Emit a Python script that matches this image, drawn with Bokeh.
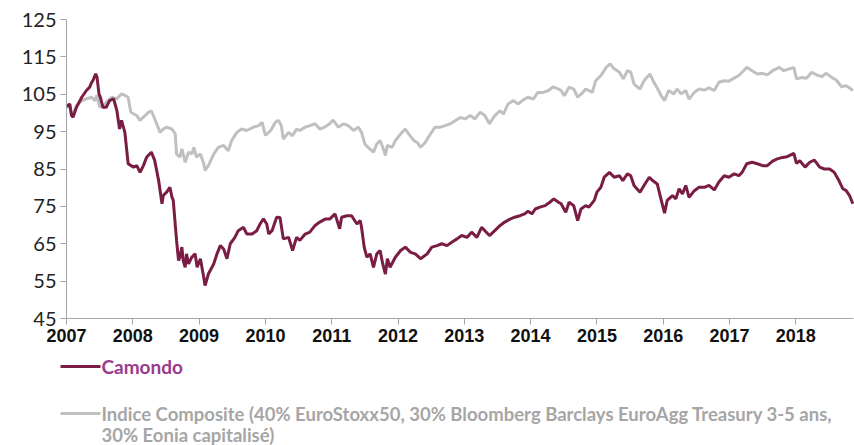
from bokeh.plotting import figure
from bokeh.models import Range1d, FixedTicker, Label, Arrow
from bokeh.embed import file_html
from bokeh.resources import INLINE

# ---------------- data (fractional years, index values) ----------------
camondo_dates = [
    2007.00, 2007.05, 2007.076, 2007.10, 2007.15, 2007.23, 2007.30, 2007.35, 2007.38, 2007.40,
    2007.44, 2007.46, 2007.49, 2007.51, 2007.55, 2007.60, 2007.65, 2007.71, 2007.76, 2007.80,
    2007.83, 2007.88, 2007.93, 2008.01, 2008.06, 2008.11, 2008.16, 2008.21, 2008.28, 2008.33,
    2008.39, 2008.44, 2008.46, 2008.51, 2008.56, 2008.59, 2008.61, 2008.66, 2008.69, 2008.71,
    2008.74, 2008.76, 2008.79, 2008.81, 2008.84, 2008.89, 2008.94, 2008.97, 2009.02, 2009.07,
    2009.09, 2009.14, 2009.22, 2009.27, 2009.32, 2009.37, 2009.42, 2009.47, 2009.54, 2009.59,
    2009.67, 2009.72, 2009.80, 2009.87, 2009.92, 2009.97, 2010.02, 2010.05, 2010.10, 2010.17,
    2010.22, 2010.27, 2010.35, 2010.41, 2010.47, 2010.52, 2010.60, 2010.67, 2010.75, 2010.82,
    2010.90, 2010.97, 2011.05, 2011.12, 2011.15, 2011.23, 2011.30, 2011.38, 2011.43, 2011.45,
    2011.49, 2011.53, 2011.58, 2011.63, 2011.68, 2011.73, 2011.77, 2011.81, 2011.84, 2011.88,
    2011.96, 2012.04, 2012.11, 2012.19, 2012.26, 2012.34, 2012.44, 2012.51, 2012.59, 2012.66,
    2012.74, 2012.81, 2012.89, 2012.96, 2013.04, 2013.11, 2013.19, 2013.26, 2013.31, 2013.38,
    2013.46, 2013.54, 2013.61, 2013.69, 2013.76, 2013.84, 2013.91, 2013.96, 2014.02, 2014.07,
    2014.14, 2014.22, 2014.29, 2014.35, 2014.42, 2014.46, 2014.53, 2014.58, 2014.65, 2014.71,
    2014.76, 2014.83, 2014.88, 2014.96, 2015.00, 2015.06, 2015.11, 2015.19, 2015.26, 2015.34,
    2015.39, 2015.46, 2015.51, 2015.56, 2015.65, 2015.71, 2015.79, 2015.84, 2015.91, 2015.96,
    2016.02, 2016.06, 2016.14, 2016.19, 2016.24, 2016.29, 2016.34, 2016.39, 2016.47, 2016.54,
    2016.62, 2016.69, 2016.77, 2016.84, 2016.92, 2016.99, 2017.07, 2017.14, 2017.19, 2017.26,
    2017.34, 2017.42, 2017.50, 2017.57, 2017.65, 2017.72, 2017.80, 2017.87, 2017.97, 2018.01,
    2018.06, 2018.14, 2018.21, 2018.28, 2018.36, 2018.43, 2018.51, 2018.58, 2018.65, 2018.71,
    2018.76, 2018.81, 2018.86,
]
camondo_values = [
    101.7, 102.4, 99.3, 98.9, 101.5, 104.2, 106.0, 106.9, 108.2, 108.7,
    110.5, 109.6, 105.1, 104.2, 101.5, 101.5, 103.3, 103.8, 100.6, 95.7,
    98.0, 94.8, 86.4, 85.5, 85.9, 84.1, 85.9, 88.2, 89.5, 87.3,
    81.9, 75.7, 77.9, 78.8, 80.1, 77.5, 76.6, 65.9, 60.5, 61.4,
    64.1, 60.5, 58.7, 62.3, 59.6, 61.4, 62.3, 58.7, 61.0, 56.0,
    53.8, 56.9, 59.6, 62.3, 64.5, 63.6, 61.0, 65.0, 66.7, 68.5,
    69.4, 67.6, 67.6, 68.5, 70.3, 71.7, 70.3, 67.6, 68.5, 72.1,
    72.0, 66.3, 66.7, 63.2, 66.7, 65.9, 67.6, 68.1, 69.9, 70.8,
    71.6, 71.6, 73.0, 69.0, 72.1, 72.5, 72.5, 70.3, 71.2, 69.4,
    64.1, 61.4, 62.3, 58.7, 62.3, 63.2, 59.6, 56.9, 61.0, 58.7,
    61.4, 63.2, 64.1, 62.7, 62.3, 61.0, 62.3, 64.1, 64.5, 65.0,
    64.5, 65.4, 66.3, 67.2, 66.7, 68.1, 66.7, 69.4, 68.5, 67.2,
    68.5, 69.9, 70.8, 71.6, 72.1, 72.5, 73.0, 73.7, 73.0, 74.3,
    74.8, 75.2, 76.1, 77.0, 76.1, 75.7, 73.4, 76.1, 75.2, 71.2,
    74.3, 75.2, 74.8, 76.6, 78.8, 80.1, 82.8, 84.1, 82.8, 83.2,
    81.9, 83.7, 83.2, 80.6, 78.8, 80.6, 82.8, 81.9, 81.0, 77.4,
    73.2, 76.6, 77.9, 77.0, 79.7, 78.3, 80.6, 77.4, 79.2, 80.1,
    80.1, 80.6, 79.4, 81.5, 83.2, 82.8, 83.7, 83.2, 84.1, 86.4,
    86.8, 86.4, 85.9, 85.9, 87.1, 87.7, 88.1, 88.3, 89.2, 86.5,
    87.2, 85.5, 86.8, 87.4, 85.5, 85.0, 85.0, 84.1, 81.9, 79.7,
    79.2, 77.9, 75.7,
]

indice_dates = [
    2007.00, 2007.05, 2007.076, 2007.10, 2007.15, 2007.23, 2007.30, 2007.38, 2007.43, 2007.46,
    2007.50, 2007.55, 2007.60, 2007.68, 2007.76, 2007.83, 2007.88, 2007.93, 2007.97, 2008.01,
    2008.06, 2008.11, 2008.16, 2008.24, 2008.28, 2008.31, 2008.36, 2008.41, 2008.46, 2008.51,
    2008.59, 2008.64, 2008.66, 2008.71, 2008.74, 2008.79, 2008.84, 2008.89, 2008.92, 2008.96,
    2009.02, 2009.07, 2009.09, 2009.14, 2009.22, 2009.29, 2009.37, 2009.44, 2009.49, 2009.57,
    2009.64, 2009.72, 2009.82, 2009.90, 2009.95, 2010.00, 2010.08, 2010.15, 2010.20, 2010.24,
    2010.27, 2010.35, 2010.41, 2010.47, 2010.52, 2010.60, 2010.67, 2010.75, 2010.82, 2010.90,
    2010.97, 2011.02, 2011.10, 2011.18, 2011.25, 2011.33, 2011.40, 2011.45, 2011.50, 2011.55,
    2011.63, 2011.68, 2011.73, 2011.77, 2011.81, 2011.84, 2011.91, 2011.96, 2012.04, 2012.11,
    2012.16, 2012.24, 2012.29, 2012.34, 2012.41, 2012.49, 2012.56, 2012.64, 2012.71, 2012.79,
    2012.86, 2012.94, 2013.01, 2013.09, 2013.16, 2013.24, 2013.31, 2013.38, 2013.46, 2013.54,
    2013.59, 2013.66, 2013.74, 2013.81, 2013.89, 2013.96, 2014.04, 2014.11, 2014.19, 2014.27,
    2014.34, 2014.42, 2014.46, 2014.51, 2014.58, 2014.65, 2014.71, 2014.79, 2014.83, 2014.88,
    2014.93, 2014.98, 2015.06, 2015.14, 2015.20, 2015.26, 2015.34, 2015.40, 2015.46, 2015.51,
    2015.56, 2015.65, 2015.71, 2015.80, 2015.86, 2015.93, 2015.97, 2016.02, 2016.08, 2016.16,
    2016.21, 2016.27, 2016.34, 2016.39, 2016.47, 2016.54, 2016.62, 2016.69, 2016.77, 2016.84,
    2016.92, 2016.99, 2017.07, 2017.14, 2017.19, 2017.26, 2017.34, 2017.42, 2017.50, 2017.57,
    2017.65, 2017.75, 2017.82, 2017.90, 2017.97, 2018.01, 2018.09, 2018.16, 2018.24, 2018.31,
    2018.39, 2018.46, 2018.54, 2018.61, 2018.69, 2018.76, 2018.81, 2018.86,
]
indice_values = [
    101.7, 101.5, 99.3, 99.8, 102.0, 103.3, 103.8, 104.2, 103.3, 104.7,
    101.7, 101.5, 102.9, 104.2, 103.8, 105.1, 104.7, 104.2, 100.2, 99.8,
    99.3, 98.0, 98.9, 100.2, 100.6, 99.3, 97.1, 94.8, 95.7, 96.2,
    95.7, 94.4, 89.0, 88.2, 90.4, 86.8, 89.5, 89.0, 90.8, 88.2,
    89.0, 86.4, 84.6, 85.9, 89.0, 90.8, 91.3, 89.9, 92.6, 94.8,
    95.7, 95.3, 96.2, 96.6, 97.5, 94.0, 95.3, 97.5, 98.0, 96.6,
    93.0, 94.8, 93.9, 95.7, 95.3, 96.2, 96.6, 97.1, 95.7, 96.3,
    97.1, 98.1, 96.2, 97.1, 96.6, 95.3, 96.2, 94.8, 91.7, 90.8,
    89.5, 91.7, 92.6, 90.8, 88.6, 91.3, 90.8, 92.6, 94.4, 95.7,
    94.4, 92.6, 92.1, 90.8, 92.1, 94.4, 96.2, 96.2, 96.6, 97.1,
    97.9, 98.8, 98.4, 99.3, 98.4, 100.2, 99.3, 97.1, 99.3, 100.6,
    99.7, 102.4, 103.3, 102.4, 103.5, 104.2, 103.7, 105.5, 105.5, 106.0,
    107.0, 106.4, 106.0, 104.6, 106.9, 106.4, 104.2, 105.5, 106.4, 106.0,
    105.5, 108.6, 110.0, 112.2, 113.1, 111.8, 110.9, 109.1, 111.3, 110.9,
    107.7, 106.4, 108.6, 110.4, 108.2, 106.0, 104.6, 103.3, 106.0, 105.1,
    106.4, 105.1, 106.0, 103.7, 105.5, 106.4, 106.1, 106.7, 106.0, 108.2,
    108.6, 108.5, 109.3, 110.0, 110.9, 112.2, 111.3, 110.4, 110.6, 110.2,
    111.3, 112.2, 111.3, 111.8, 112.2, 109.1, 109.5, 109.3, 110.9, 110.2,
    109.7, 110.6, 109.5, 108.8, 107.0, 107.3, 106.7, 106.0,
]

year_ticks = [2007, 2008, 2009, 2010, 2011, 2012, 2013, 2014, 2015, 2016, 2017, 2018]
value_ticks = [45, 55, 65, 75, 85, 95, 105, 115, 125]

series_names = ["Camondo",
                "Indice Composite (40% EuroStoxx50, 30% Bloomberg Barclays EuroAgg Treasury 3-5 ans,",
                "30% Eonia capitalisé)"]

# ---------------- styling / layout ----------------
CAMONDO = "#7A1D44"
INDICE = "#C0C0C0"
AXIS_COL = "#A6A6A6"

W, H = 854, 445
# pixel geometry of the reference axes
AXIS_X = 66          # pixel column of the y axis (first year)
TOP = 19             # pixel row of the top value
AXIS_Y = 318         # pixel row of the bottom value (x axis)
X0, X1 = year_ticks[0], 2018.87
Y_MIN, Y_MAX = value_ticks[0], value_ticks[-1]
px_per_year = (W - 1 - AXIS_X) / (X1 - X0)
px_per_unit = (AXIS_Y - TOP) / (Y_MAX - Y_MIN)
# the frame covers the whole canvas; the axes are pinned inside it
x_start = X0 - AXIS_X / px_per_year
x_end = x_start + W / px_per_year
y_end = Y_MAX + TOP / px_per_unit
y_start = y_end - H / px_per_unit

p = figure(width=W, height=H, output_backend="svg", toolbar_location=None,
           x_range=Range1d(x_start, x_end), y_range=Range1d(y_start, y_end),
           min_border_left=0, min_border_right=0, min_border_top=0,
           min_border_bottom=0)
p.outline_line_color = None
p.xgrid.visible = False
p.ygrid.visible = False
p.background_fill_color = "white"
p.border_fill_color = "white"

p.line(indice_dates, indice_values, line_color=INDICE, line_width=3)
p.line(camondo_dates, camondo_values, line_color=CAMONDO, line_width=3)

# axes
xa = p.xaxis[0]
xa.fixed_location = Y_MIN
xa.bounds = (X0, X1)
xa.ticker = FixedTicker(ticks=year_ticks)
xa.axis_line_color = AXIS_COL
xa.major_tick_line_color = AXIS_COL
xa.major_tick_out = 6
xa.major_tick_in = 0
xa.minor_tick_line_color = None
xa.major_label_text_font = "Liberation Sans"
xa.major_label_text_font_style = "bold"
xa.major_label_text_font_size = "18px"
xa.major_label_text_color = "#111111"
xa.major_label_standoff = 4

ya = p.yaxis[0]
ya.fixed_location = X0
ya.bounds = (Y_MIN, Y_MAX)
ya.ticker = FixedTicker(ticks=value_ticks)
ya.axis_line_color = AXIS_COL
ya.major_tick_line_color = AXIS_COL
ya.major_tick_out = 6
ya.major_tick_in = 0
ya.minor_tick_line_color = None
ya.major_label_text_font = "Lato"
ya.major_label_text_font_size = "20px"
ya.major_label_text_color = "#222222"
ya.major_label_standoff = 4

# legend drawn as annotations (screen units relative to the frame's bottom-left = canvas)
LEG_FONT = "Lato"
rows = [H - 366, H - 413, H - 434]
p.add_layout(Arrow(end=None, x_start=60, x_end=100, y_start=rows[0], y_end=rows[0],
                   start_units="screen", end_units="screen",
                   line_color=CAMONDO, line_width=3))
p.add_layout(Label(x=101, y=rows[0], x_units="screen", y_units="screen",
                   text=series_names[0], text_font=LEG_FONT, text_font_style="bold",
                   text_font_size="19px", text_color="#9B3A8E", text_baseline="middle"))
p.add_layout(Arrow(end=None, x_start=60, x_end=100, y_start=rows[1], y_end=rows[1],
                   start_units="screen", end_units="screen",
                   line_color=INDICE, line_width=3))
p.add_layout(Label(x=101, y=rows[1], x_units="screen", y_units="screen",
                   text=series_names[1], text_font=LEG_FONT, text_font_style="bold",
                   text_font_size="18.5px", text_color="#A6A6A6", text_baseline="middle"))
p.add_layout(Label(x=101, y=rows[2], x_units="screen", y_units="screen",
                   text=series_names[2], text_font=LEG_FONT, text_font_style="bold",
                   text_font_size="18.5px", text_color="#A6A6A6", text_baseline="middle"))

open("out.html", "w").write(file_html(p, INLINE))
